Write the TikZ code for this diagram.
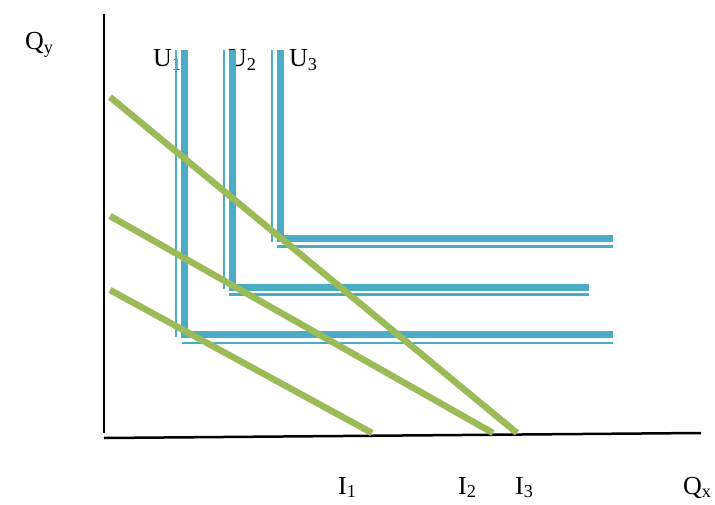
\documentclass[tikz,border=0pt]{standalone}
\usepackage{fontspec}
\setmainfont{Liberation Serif}
\usetikzlibrary{positioning}
\definecolor{ublue}{HTML}{4BACC6}
\definecolor{igreen}{HTML}{9BBB59}
\tikzset{
  axis/.style={line width=2.5pt, black},
  ucurve/.style={line width=7pt, ublue, line join=miter},
  uedge/.style={line width=2.2pt, ublue},
  iline/.style={line width=6.5pt, igreen},
  lbl/.style={anchor=base west, inner sep=0pt, font=\fontsize{26}{30}\selectfont}
}

\begin{document}
\begin{tikzpicture}[x=1pt, y=-1pt]
  \useasboundingbox (0,0) rectangle (715,505);
  % labels
  \node[lbl] (qy) at (25,50) {Q\textsubscript{y}};
  \node[lbl] (u1) at (153,67) {U\textsubscript{1}};
  \node[lbl] (u2) at (228,67) {U\textsubscript{2}};
  \node[lbl] (u3) at (289,67) {U\textsubscript{3}};
  \node[lbl] (i1) at (338,494) {I\textsubscript{1}};
  \node[lbl] (i2) at (458,494) {I\textsubscript{2}};
  \node[lbl] (i3) at (515,494) {I\textsubscript{3}};
  \node[lbl] (qx) at (683,494) {Q\textsubscript{x}};
  % axes
  \draw[axis] (104,14) -- (104,433);
  \draw[axis] (104,438) -- (701,433);
  % indifference curves (L-shaped)
  \draw[ucurve] (184,50) -- (184,334) -- (613,334);
  \draw[uedge] (176,50) -- (176,337);
  \draw[uedge] (182,343) -- (613,343);
  \draw[ucurve] (232,50) -- (232,287) -- (589,287);
  \draw[uedge] (224,50) -- (224,289);
  \draw[uedge] (229,294.5) -- (589,294.5);
  \draw[ucurve] (280,50) -- (280,239) -- (613,239);
  \draw[uedge] (272,50) -- (272,242);
  \draw[uedge] (277,246.5) -- (613,246.5);
  % budget lines
  \draw[iline] (110,97) -- (517,433);
  \draw[iline] (110,216) -- (493,433);
  \draw[iline] (110,290) -- (372,433);
\end{tikzpicture}
\end{document}
